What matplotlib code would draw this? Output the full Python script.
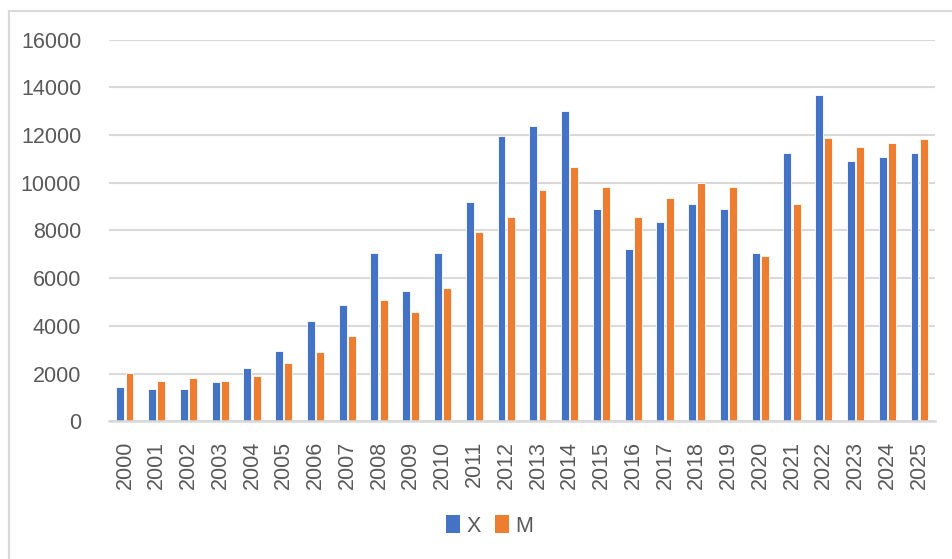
import numpy as np
import matplotlib
matplotlib.use("Agg")
import matplotlib.pyplot as plt
from matplotlib.lines import Line2D

# datos
anios = [str(a) for a in range(2000, 2026)]
valores_x = [1450, 1345, 1360, 1650, 2240, 2940, 4210, 4890, 7060, 5480, 7050, 9200,
             11980, 12370, 13030, 8910, 7240, 8350, 9100, 8910, 7070, 11260, 13680,
             10910, 11080, 11230]
valores_m = [2020, 1695, 1820, 1680, 1905, 2440, 2910, 3585, 5100, 4580, 5590, 7935,
             8570, 9690, 10660, 9830, 8560, 9370, 9990, 9820, 6935, 9105, 11865,
             11485, 11650, 11820]
ticks_y = [0, 2000, 4000, 6000, 8000, 10000, 12000, 14000, 16000]

AZUL = "#4472C4"
NARANJA = "#ED7D31"
GRIS_TEXTO = "#595959"
GRIS_LINEA = "#D9D9D9"

plt.rcParams["font.family"] = ["Liberation Sans", "DejaVu Sans"]

fig = plt.figure(figsize=(9.52, 5.59), dpi=100)
ax = fig.add_axes([109 / 952, 1 - 421.3 / 559, (935 - 109) / 952, (421.3 - 39.7) / 559])

pos = np.arange(len(anios))
ancho = 0.25
ax.bar(pos - 0.145, valores_x, ancho, color=AZUL, edgecolor="white", linewidth=0.6,
       label="X", zorder=3)
ax.bar(pos + 0.145, valores_m, ancho, color=NARANJA, edgecolor="white", linewidth=0.6,
       label="M", zorder=3)

ax.set_xlim(-0.5, len(anios) - 0.5)
ax.set_ylim(0, 16000)
ax.set_yticks(ticks_y)
ax.set_yticklabels([str(t) for t in ticks_y])
ax.set_xticks(pos)
ax.set_xticklabels(anios, rotation=90)

ax.tick_params(axis="both", length=0, labelsize=15.5, colors=GRIS_TEXTO)
ax.tick_params(axis="y", pad=20)
ax.tick_params(axis="x", pad=14)

ax.grid(axis="y", color=GRIS_LINEA, linewidth=1.5, zorder=0)
for lado in ["top", "right", "left"]:
    ax.spines[lado].set_visible(False)
ax.spines["bottom"].set_color(GRIS_LINEA)
ax.spines["bottom"].set_linewidth(1.8)
ax.spines["bottom"].set_zorder(4)

# leyenda abajo, cuadrados de ~14 px
leyenda = fig.legend(loc="center", bbox_to_anchor=(490 / 952, 1 - 526 / 559), ncol=2,
                     frameon=False, fontsize=15.5, handlelength=0.65, handleheight=0.9,
                     handletextpad=0.3, columnspacing=0.65)
for txt in leyenda.get_texts():
    txt.set_color(GRIS_TEXTO)
for h in leyenda.legend_handles:
    h.set_edgecolor("none")

# marco exterior del grafico
fig.add_artist(Line2D([8.5 / 952, 8.5 / 952], [0, 1 - 10.7 / 559], transform=fig.transFigure,
                      color=GRIS_LINEA, linewidth=1.5))
fig.add_artist(Line2D([8.5 / 952, 1], [1 - 10.7 / 559, 1 - 10.7 / 559], transform=fig.transFigure,
                      color=GRIS_LINEA, linewidth=1.5))

fig.savefig("out.png", dpi=100)
